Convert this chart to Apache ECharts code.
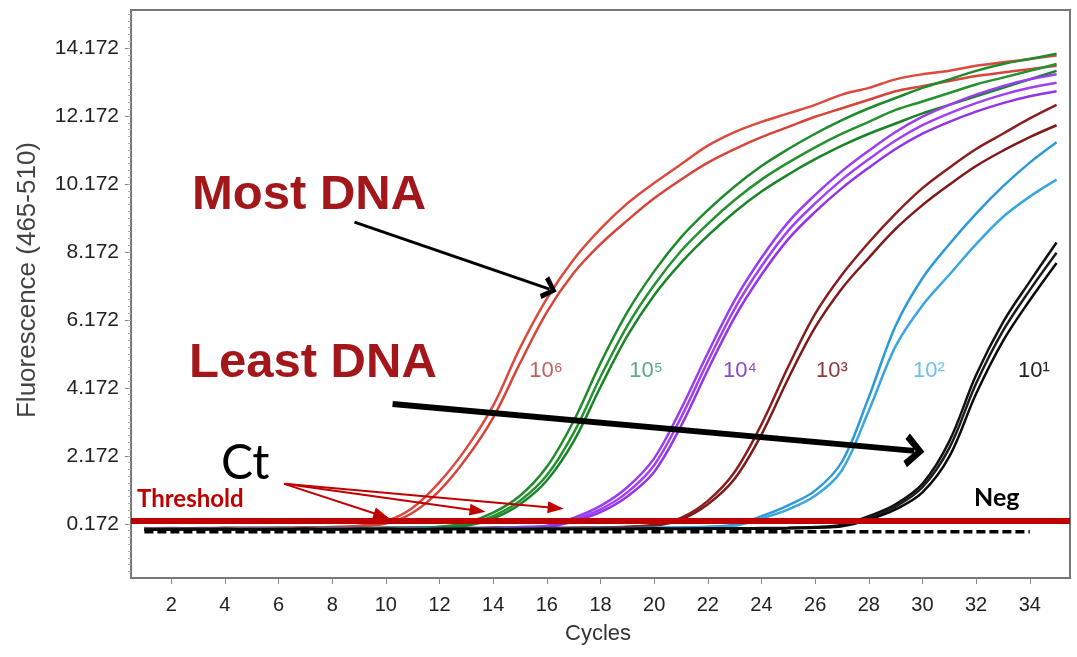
<!DOCTYPE html>
<html>
<head>
<meta charset="utf-8">
<script src="https://cdn.jsdelivr.net/npm/echarts@6/dist/echarts.min.js"></script>
<style>
  html, body { margin: 0; padding: 0; background: #fff; }
  #chart { width: 1077px; height: 657px; }
</style>
</head>
<body>
<div id="chart"></div>
<script>
// cycles 1..35
const cycles = [1, 2, 3, 4, 5, 6, 7, 8, 9, 10, 11, 12, 13, 14, 15, 16, 17, 18,
  19, 20, 21, 22, 23, 24, 25, 26, 27, 28, 29, 30, 31, 32, 33, 34, 35];

const xTicks = [2, 4, 6, 8, 10, 12, 14, 16, 18, 20, 22, 24, 26, 28, 30, 32, 34];
const yTicks = [0.172, 2.172, 4.172, 6.172, 8.172, 10.172, 12.172, 14.172];

// 10^6 (red)
const red1 = [0.05, 0.04, 0.05, 0.06, 0.05, 0.06, 0.07, 0.08, 0.12, 0.25, 0.65, 1.4, 2.4, 3.65, 5.35, 6.8, 7.95,
  8.85, 9.6, 10.2, 10.75, 11.3, 11.7, 12.0, 12.25, 12.5, 12.8, 13.0, 13.25, 13.4, 13.5, 13.65, 13.75, 13.85, 13.95];
const red2 = [0.04, 0.05, 0.04, 0.05, 0.06, 0.05, 0.06, 0.07, 0.1, 0.18, 0.5, 1.15, 2.1, 3.3, 4.9, 6.4, 7.55,
  8.4, 9.1, 9.75, 10.3, 10.8, 11.2, 11.55, 11.85, 12.15, 12.4, 12.65, 12.9, 13.05, 13.2, 13.35, 13.45, 13.55, 13.65];

// 10^5 (green)
const green1 = [0.03, 0.04, 0.03, 0.05, 0.04, 0.04, 0.05, 0.04, 0.05, 0.06, 0.06, 0.09, 0.2, 0.5, 1.0, 1.85, 3.2,
  4.9, 6.4, 7.6, 8.6, 9.4, 10.1, 10.7, 11.2, 11.65, 12.05, 12.4, 12.7, 13.0, 13.25, 13.5, 13.7, 13.85, 14.0];
const green2 = [0.02, 0.03, 0.04, 0.03, 0.04, 0.05, 0.04, 0.05, 0.04, 0.05, 0.06, 0.08, 0.15, 0.4, 0.85, 1.6, 2.85,
  4.5, 6.0, 7.2, 8.2, 9.0, 9.7, 10.3, 10.8, 11.25, 11.65, 12.0, 12.35, 12.6, 12.85, 13.1, 13.3, 13.5, 13.7];
const green3 = [0.03, 0.02, 0.03, 0.04, 0.03, 0.04, 0.04, 0.03, 0.05, 0.04, 0.05, 0.07, 0.12, 0.33, 0.75, 1.45, 2.6,
  4.2, 5.7, 6.9, 7.85, 8.65, 9.35, 9.95, 10.45, 10.9, 11.3, 11.65, 11.95, 12.25, 12.5, 12.75, 13.0, 13.25, 13.5];

// 10^4 (purple)
const purple1 = [0.03, 0.04, 0.03, 0.04, 0.05, 0.04, 0.04, 0.05, 0.04, 0.05, 0.05, 0.04, 0.05, 0.06, 0.08, 0.12, 0.35,
  0.7, 1.25, 2.1, 3.55, 5.2, 6.75, 8.0, 9.05, 9.85, 10.55, 11.15, 11.7, 12.15, 12.5, 12.8, 13.05, 13.25, 13.4];
const purple2 = [0.02, 0.03, 0.04, 0.03, 0.04, 0.03, 0.05, 0.04, 0.05, 0.04, 0.04, 0.05, 0.04, 0.05, 0.07, 0.1, 0.3,
  0.6, 1.1, 1.9, 3.3, 4.95, 6.5, 7.75, 8.8, 9.6, 10.3, 10.9, 11.45, 11.9, 12.25, 12.55, 12.8, 13.0, 13.15];
const purple3 = [0.03, 0.02, 0.03, 0.03, 0.03, 0.04, 0.03, 0.04, 0.03, 0.04, 0.05, 0.04, 0.04, 0.05, 0.06, 0.08, 0.25,
  0.52, 0.98, 1.7, 3.05, 4.7, 6.25, 7.5, 8.55, 9.35, 10.05, 10.65, 11.2, 11.65, 12.0, 12.3, 12.55, 12.75, 12.9];

// 10^3 (dark red)
const brown1 = [0.03, 0.04, 0.03, 0.04, 0.04, 0.05, 0.04, 0.05, 0.04, 0.05, 0.05, 0.04, 0.05, 0.05, 0.04, 0.05, 0.06,
  0.07, 0.09, 0.15, 0.35, 0.85, 1.7, 3.1, 4.8, 6.35, 7.5, 8.45, 9.3, 10.05, 10.65, 11.2, 11.65, 12.1, 12.5];
const brown2 = [0.02, 0.03, 0.03, 0.03, 0.04, 0.04, 0.03, 0.04, 0.04, 0.04, 0.03, 0.04, 0.04, 0.05, 0.04, 0.04, 0.05,
  0.06, 0.08, 0.12, 0.3, 0.75, 1.5, 2.8, 4.45, 5.95, 7.1, 8.0, 8.85, 9.55, 10.15, 10.7, 11.15, 11.55, 11.9];

// 10^2 (blue)
const blue1 = [0.02, 0.03, 0.02, 0.03, 0.03, 0.04, 0.03, 0.03, 0.04, 0.03, 0.04, 0.04, 0.03, 0.04, 0.04, 0.05, 0.04,
  0.05, 0.05, 0.06, 0.07, 0.09, 0.15, 0.4, 0.72, 1.15, 2.0, 3.9, 6.0, 7.4, 8.4, 9.3, 10.1, 10.8, 11.4];
const blue2 = [0.02, 0.02, 0.03, 0.02, 0.03, 0.03, 0.03, 0.04, 0.03, 0.03, 0.03, 0.04, 0.04, 0.03, 0.04, 0.04, 0.04,
  0.05, 0.04, 0.05, 0.06, 0.08, 0.12, 0.33, 0.6, 1.0, 1.75, 3.5, 5.4, 6.6, 7.5, 8.4, 9.2, 9.8, 10.3];

// 10^1 (black)
const black1 = [0.01, 0.02, 0.02, 0.01, 0.02, 0.02, 0.03, 0.02, 0.02, 0.03, 0.02, 0.03, 0.03, 0.02, 0.03, 0.03, 0.02,
  0.03, 0.03, 0.04, 0.03, 0.04, 0.04, 0.05, 0.06, 0.08, 0.15, 0.4, 0.75, 1.35, 2.6, 4.55, 6.1, 7.3, 8.45];
const black2 = [0.01, 0.01, 0.02, 0.02, 0.01, 0.02, 0.02, 0.02, 0.03, 0.02, 0.02, 0.02, 0.03, 0.02, 0.02, 0.03, 0.03,
  0.02, 0.03, 0.03, 0.03, 0.04, 0.03, 0.04, 0.05, 0.07, 0.12, 0.35, 0.68, 1.25, 2.4, 4.3, 5.85, 7.05, 8.15];
const black3 = [0.0, 0.01, 0.01, 0.02, 0.01, 0.01, 0.02, 0.01, 0.02, 0.02, 0.01, 0.02, 0.02, 0.02, 0.01, 0.02, 0.02,
  0.02, 0.02, 0.03, 0.02, 0.03, 0.03, 0.03, 0.04, 0.06, 0.1, 0.3, 0.6, 1.1, 2.15, 4.0, 5.55, 6.75, 7.85];

// negative control, cycles 1..34
const neg = [-0.06, -0.06, -0.06, -0.06, -0.06, -0.06, -0.06, -0.06, -0.06, -0.06, -0.06, -0.06, -0.06, -0.06,
  -0.06, -0.06, -0.06, -0.06, -0.06, -0.06, -0.06, -0.06, -0.06, -0.06, -0.06, -0.06, -0.06, -0.06, -0.06,
  -0.06, -0.06, -0.06, -0.06, -0.06];

const threshold = 0.26;

// annotation arrows, [cycle, fluorescence]
const arrowMost = [[8.83, 9.05], [16.1, 7.08]];
const arrowLeast = [[10.25, 3.7], [29.7, 2.32]];
const ctFrom = [6.21, 1.35];
const ctTargets = [[9.84, 0.41], [13.42, 0.56], [16.33, 0.64]];

const curves = [
  { data: red1, color: '#dc4a3e' },
  { data: red2, color: '#d6453a' },
  { data: green1, color: '#1f8b2c' },
  { data: green2, color: '#23922f' },
  { data: green3, color: '#1a8428' },
  { data: purple1, color: '#9a3cf0' },
  { data: purple2, color: '#a040f5' },
  { data: purple3, color: '#9334e8' },
  { data: brown1, color: '#8a1e1e' },
  { data: brown2, color: '#7e1a1a' },
  { data: blue1, color: '#2d9ad8' },
  { data: blue2, color: '#3aa5de' },
  { data: black1, color: '#111111' },
  { data: black2, color: '#1c1c1c' },
  { data: black3, color: '#0a0a0a' }
];

function toPoints(vals) {
  return vals.map((v, i) => [cycles[i], v]);
}

// minor ticks on the y axis every 0.2
let yMinor = [];
for (let v = -1.228; v < 15.2; v += 0.2) {
  yMinor.push(Math.round(v * 1000) / 1000);
}

const chart = echarts.init(document.getElementById('chart'));

const chevron = 'path://M10,0 L20,10 L16.5,12.5 L10,5.5 L3.5,12.5 L0,10 Z';

let series = curves.map((c) => ({
  type: 'line',
  data: toPoints(c.data),
  smooth: 0.35,
  showSymbol: false,
  silent: true,
  lineStyle: { color: c.color, width: 2.5 },
  z: 3
}));

series.unshift({
  type: 'line',
  data: toPoints(neg),
  showSymbol: false,
  silent: true,
  lineStyle: { color: '#000', width: 3.5, type: [9, 4] },
  z: 4
});

series.push({
  type: 'line',
  data: [],
  silent: true,
  z: 10,
  markLine: {
    silent: true,
    animation: false,
    label: { show: false },
    symbol: ['none', 'none'],
    data: [
      [{ coord: [0.5, threshold], symbol: 'none', lineStyle: { color: '#c00000', width: 6, type: 'solid' } },
       { coord: [35.5, threshold], symbol: 'none' }],
      [{ coord: arrowMost[0], symbol: 'none', lineStyle: { color: '#000', width: 3, type: 'solid' } },
       { coord: arrowMost[1], symbol: chevron, symbolSize: [24, 15] }],
      [{ coord: arrowLeast[0], symbol: 'none', lineStyle: { color: '#000', width: 6, type: 'solid' } },
       { coord: arrowLeast[1], symbol: chevron, symbolSize: [34, 20] }]
    ].concat(ctTargets.map((t) => [
      { coord: ctFrom, symbol: 'none', lineStyle: { color: '#c00000', width: 2, type: 'solid' } },
      { coord: t, symbol: 'triangle', symbolSize: [12, 16] }
    ]))
  }
});

const labelFont = 'Liberation Sans, Arial, sans-serif';

function txt(text, x, y, font, fill, align) {
  return {
    type: 'text',
    x: x,
    y: y,
    z: 100,
    silent: true,
    style: {
      text: text,
      font: font,
      fill: fill,
      textAlign: align || 'left',
      textVerticalAlign: 'middle'
    }
  };
}

const option = {
  animation: false,
  backgroundColor: '#fff',
  grid: {
    left: 131, right: 7, top: 10, bottom: 79,
    show: true, borderColor: '#777', borderWidth: 2,
    outerBoundsMode: 'none'
  },
  xAxis: {
    type: 'value',
    min: 0.5,
    max: 35.5,
    axisLine: { show: false, onZero: false },
    splitLine: { show: false },
    axisTick: { show: true, customValues: xTicks, length: 6, lineStyle: { color: '#888' } },
    axisLabel: {
      customValues: xTicks, margin: 17,
      fontFamily: labelFont, fontSize: 20, color: '#222'
    }
  },
  yAxis: [
    {
      type: 'value',
      min: -1.42,
      max: 15.29,
      axisLine: { show: false, onZero: false },
      splitLine: { show: false },
      axisTick: { show: true, customValues: yTicks, length: 6, lineStyle: { color: '#888' } },
      axisLabel: {
        customValues: yTicks, margin: 12,
        fontFamily: labelFont, fontSize: 21, color: '#222',
        formatter: (v) => v.toFixed(3)
      }
    },
    {
      type: 'value',
      position: 'left',
      min: -1.42,
      max: 15.29,
      axisLine: { show: false, onZero: false },
      splitLine: { show: false },
      axisLabel: { show: false },
      axisTick: { show: true, customValues: yMinor, length: 3, lineStyle: { color: '#aaa' } }
    }
  ],
  series: series,
  graphic: [
    txt('Fluorescence (465-510)', 28, 280, '26px ' + labelFont, '#444', 'center'),
    txt('Cycles', 598, 634, '22px ' + labelFont, '#333', 'center'),
    txt('Most DNA', 192, 195, 'bold 49px ' + labelFont, '#a3161a'),
    txt('Least DNA', 189, 363, 'bold 49px ' + labelFont, '#a3161a'),
    txt('Ct', 221, 464, '48px Lato, sans-serif', '#000'),
    txt('Threshold', 137, 499, 'bold 24px Lato, sans-serif', '#c00000'),
    txt('Neg', 974, 498, 'bold 25px Lato, sans-serif', '#000'),
    txt('10\u2076', 546, 371, '22px ' + labelFont, '#c0605a', 'center'),
    txt('10\u2075', 646, 371, '22px ' + labelFont, '#5aa88a', 'center'),
    txt('10\u2074', 740, 371, '22px ' + labelFont, '#8a48c8', 'center'),
    txt('10\u00b3', 832, 371, '22px ' + labelFont, '#8a3a3a', 'center'),
    txt('10\u00b2', 929, 371, '22px ' + labelFont, '#6cc4e4', 'center'),
    txt('10\u00b9', 1034, 371, '22px ' + labelFont, '#222', 'center')
  ]
};

option.graphic[0].rotation = Math.PI / 2;

chart.setOption(option);
</script>
</body>
</html>
